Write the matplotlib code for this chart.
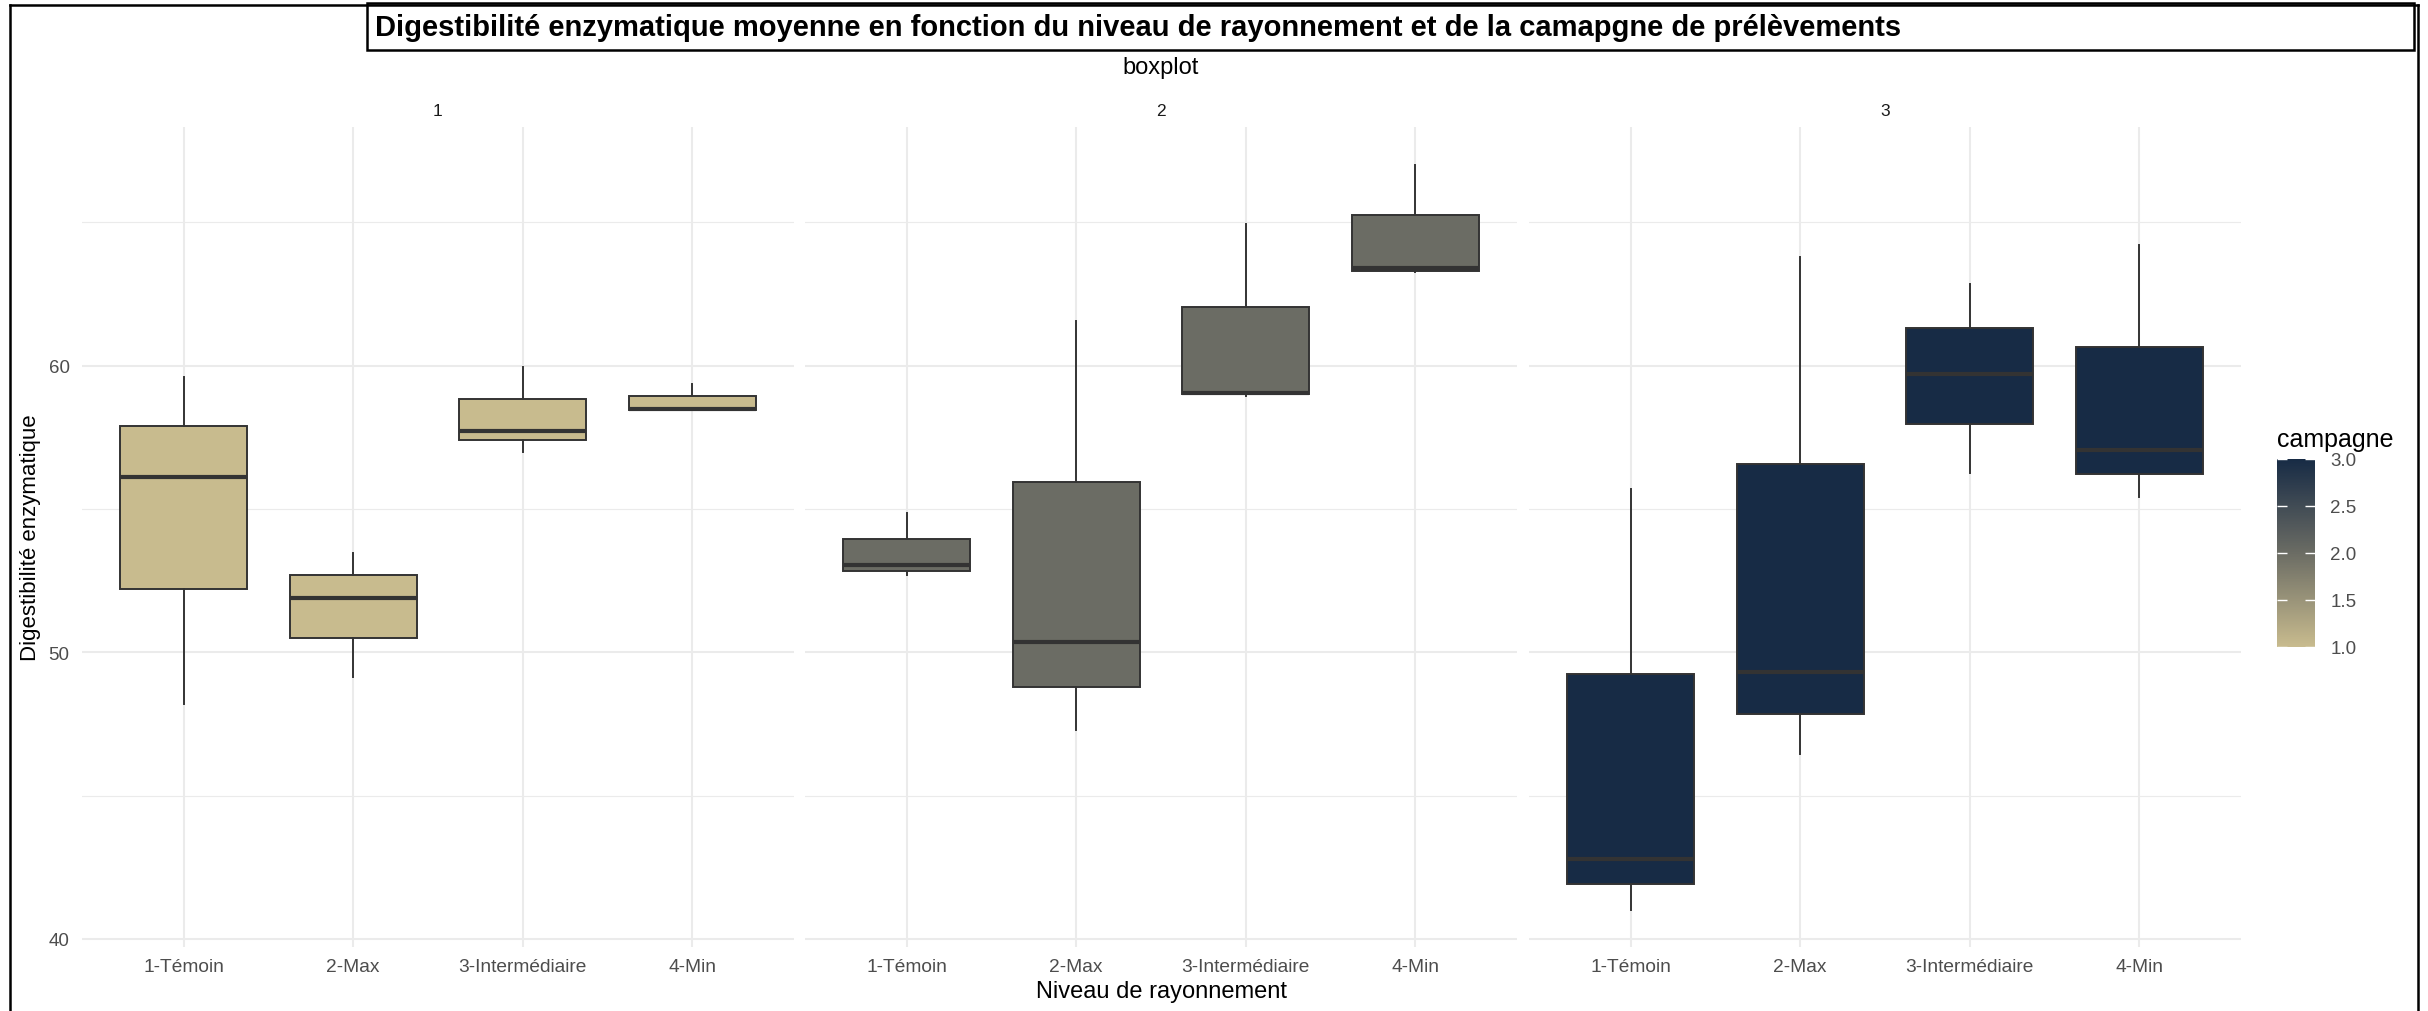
import matplotlib
matplotlib.use("Agg")
import matplotlib.pyplot as plt
from matplotlib.colors import LinearSegmentedColormap, Normalize
from matplotlib.patches import Rectangle
from matplotlib.lines import Line2D
from matplotlib.cm import ScalarMappable

plt.rcParams["font.family"] = ["Liberation Sans", "DejaVu Sans"]

# Boxplot statistics per campagne (rows) and niveau de rayonnement (columns)
niveaux = ["1-Témoin", "2-Max", "3-Intermédiaire", "4-Min"]
campagnes = [1, 2, 3]
whis_bas = [
    [48.2, 49.15, 57.0, 58.45],
    [52.7, 47.3, 58.95, 63.25],
    [41.0, 46.45, 56.25, 55.4],
]
q1 = [
    [52.2, 50.5, 57.4, 58.45],
    [52.85, 48.8, 59.0, 63.3],
    [41.9, 47.85, 57.95, 56.2],
]
mediane = [
    [56.1, 51.9, 57.7, 58.5],
    [53.05, 50.35, 59.05, 63.4],
    [42.8, 49.3, 59.7, 57.05],
]
q3 = [
    [57.9, 52.7, 58.85, 58.95],
    [53.95, 55.95, 62.05, 65.25],
    [49.25, 56.55, 61.3, 60.65],
]
whis_haut = [
    [59.6, 53.45, 59.95, 59.35],
    [54.85, 61.55, 64.95, 67.0],
    [55.7, 63.8, 62.85, 64.2],
]

W, H = 2428, 1012
fig = plt.figure(figsize=(W / 100, H / 100), dpi=100)
fig.patch.set_facecolor("white")

cmap = LinearSegmentedColormap.from_list("campagne", ["#C8BB8E", "#6B6C64", "#172B45"])
norm = Normalize(vmin=1, vmax=3)

grid_col = "#ebebeb"
edge_col = "#333333"
tick_col = "#4d4d4d"

panel_left = [82, 805, 1529]
panel_w = 712
bottom_px, top_px = 948, 128


def fx(px):
    return px / W


def fy(py):
    return 1 - py / H


axes = []
for i, camp in enumerate(campagnes):
    ax = fig.add_axes([fx(panel_left[i]), fy(bottom_px), panel_w / W, (bottom_px - top_px) / H])
    stats = []
    for j, niv in enumerate(niveaux):
        stats.append({
            "label": niv,
            "whislo": whis_bas[i][j],
            "q1": q1[i][j],
            "med": mediane[i][j],
            "q3": q3[i][j],
            "whishi": whis_haut[i][j],
            "fliers": [],
        })
    bp = ax.bxp(
        stats,
        positions=range(1, len(niveaux) + 1),
        widths=0.75,
        patch_artist=True,
        showcaps=False,
        boxprops=dict(facecolor=cmap(norm(camp)), edgecolor=edge_col, linewidth=1.4),
        medianprops=dict(color=edge_col, linewidth=3.0, solid_capstyle="butt"),
        whiskerprops=dict(color=edge_col, linewidth=1.4),
        zorder=3,
    )

    ax.set_xlim(0.4, 4.6)
    ax.set_ylim(39.72, 68.32)
    ax.set_yticks([40, 50, 60])
    ax.set_yticks([45, 55, 65], minor=True)
    ax.grid(which="major", color=grid_col, linewidth=1.5, zorder=0)
    ax.grid(which="minor", axis="y", color=grid_col, linewidth=0.8, zorder=0)
    ax.set_axisbelow(True)
    for sp in ax.spines.values():
        sp.set_visible(False)
    ax.tick_params(which="both", length=0)
    ax.tick_params(axis="x", labelsize=13.8, labelcolor=tick_col, pad=8)
    ax.tick_params(axis="y", labelsize=13.5, labelcolor=tick_col, pad=9)
    if i > 0:
        ax.tick_params(axis="y", labelleft=False)
    ax.set_xticklabels(niveaux)
    axes.append(ax)

    # strip label
    fig.text(fx(panel_left[i] + panel_w / 2), fy(111), str(camp), ha="center", va="center",
             fontsize=12.5, color="#1a1a1a")

# titles
fig.text(fx(375), fy(28),
         "Digestibilité enzymatique moyenne en fonction du niveau de rayonnement et de la camapgne de prélèvements",
         ha="left", va="center", fontsize=21, fontweight="bold", color="black")
fig.patches.append(Rectangle((fx(367), fy(51)), fx(2414 - 367), 47 / H, transform=fig.transFigure,
                             fill=False, edgecolor="black", linewidth=1.8))
fig.text(fx(1161), fy(68), "boxplot", ha="center", va="center", fontsize=17)
fig.text(fx(1161), fy(992), "Niveau de rayonnement", ha="center", va="center", fontsize=17)
fig.text(fx(31), fy(538), "Digestibilité enzymatique", ha="center", va="center",
         rotation=90, fontsize=16)

# outer frame
for xs, ys in [((10, 10), (6, H + 5)), ((10, 2418), (6, 6)), ((2418, 2418), (6, H + 5))]:
    fig.lines.append(Line2D([fx(x) for x in xs], [fy(y) for y in ys], transform=fig.transFigure,
                            color="black", linewidth=1.8))

# colour bar legend
cax = fig.add_axes([fx(2277), fy(648), 38 / W, 188 / H])
sm = ScalarMappable(norm=norm, cmap=cmap)
cb = fig.colorbar(sm, cax=cax, ticks=[1.0, 1.5, 2.0, 2.5, 3.0])
cb.outline.set_visible(False)
cb.ax.set_yticklabels(["1.0", "1.5", "2.0", "2.5", "3.0"])
cb.ax.tick_params(direction="in", color="white", length=7, width=1, left=True, right=True,
                  labelsize=13.5, labelcolor=tick_col, pad=11)
fig.text(fx(2277), fy(440), "campagne", ha="left", va="center", fontsize=18)

fig.savefig("out.png", dpi=100)
